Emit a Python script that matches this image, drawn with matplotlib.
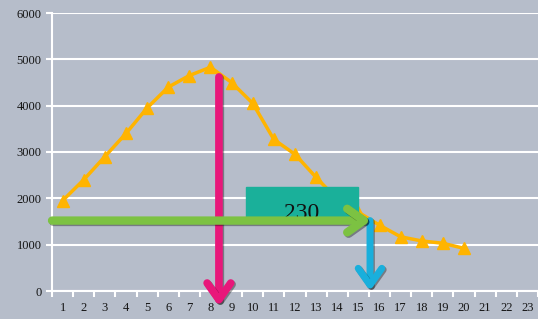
import matplotlib.pyplot as plt
import matplotlib.patheffects as pe

# chart data
categories = list(range(1, 24))
days = list(range(1, 21))
values = [1950, 2400, 2900, 3400, 3950, 4400, 4650, 4830, 4500, 4050,
          3270, 2950, 2450, 1980, 1700, 1420, 1170, 1080, 1030, 920]
yticks = [0, 1000, 2000, 3000, 4000, 5000, 6000]
box_label = '230'

bg = '#b6bdca'
fig = plt.figure(figsize=(5.38, 3.19), dpi=100)
fig.patch.set_facecolor(bg)
ax = fig.add_axes([52 / 538, 1 - 291 / 319, 1 - 52 / 538, 278 / 319])
ax.set_facecolor(bg)

ax.set_xlim(0.5, 23.3)
ax.set_ylim(0, 6000)
ax.set_yticks(yticks)
ax.set_yticklabels([str(v) for v in yticks])
ax.set_xticks(categories)
ax.set_xticklabels([str(c) for c in categories])
ax.set_xticks([c + 0.5 for c in [0] + categories], minor=True)
ax.grid(axis='y', color='white', lw=1.5)
ax.set_axisbelow(True)
for s in ['top', 'right']:
    ax.spines[s].set_visible(False)
for s in ['left', 'bottom']:
    ax.spines[s].set_color('white')
    ax.spines[s].set_linewidth(1.5)
ax.tick_params(axis='x', which='major', length=0, pad=8)
ax.tick_params(axis='x', which='minor', length=4, color='white', width=1.5)
ax.tick_params(axis='y', length=4, color='white', width=1.5)
for lab in ax.get_xticklabels() + ax.get_yticklabels():
    lab.set_fontfamily('Liberation Serif')
    lab.set_fontsize(9)
    lab.set_color('#151515')

ax.plot(days, values, color='#ffb400', lw=2.5, marker='^', ms=9,
        clip_on=False, zorder=3)

shadow = [pe.SimpleLineShadow(offset=(1, -1), alpha=0.35), pe.Normal()]
head = '->, head_length=1.2, head_width=0.85'

# teal box with label
ax.add_patch(plt.Rectangle((9.7, 1520), 5.3, 720, color='#1ab09a', zorder=4))
ax.text(12.3, 1440, box_label, fontsize=17, family='Liberation Serif',
        ha='center', va='bottom', color='#111111', zorder=4)

# magenta arrow
ax.annotate('', xy=(8.4, -330), xytext=(8.4, 4620),
            arrowprops=dict(arrowstyle=head, color='#e8177a', lw=5.5,
                            shrinkA=0, shrinkB=0, path_effects=shadow),
            annotation_clip=False, zorder=5)
# green arrow
ax.annotate('', xy=(15.6, 1520), xytext=(0.5, 1520),
            arrowprops=dict(arrowstyle=head, color='#7cc242', lw=6,
                            shrinkA=0, shrinkB=0, path_effects=shadow),
            annotation_clip=False, zorder=6)
# blue arrow
ax.annotate('', xy=(15.55, 0), xytext=(15.55, 1520),
            arrowprops=dict(arrowstyle=head, color='#19afdc', lw=5,
                            shrinkA=0, shrinkB=0, path_effects=shadow),
            annotation_clip=False, zorder=5)

fig.savefig('out.png', dpi=100, facecolor=bg)
